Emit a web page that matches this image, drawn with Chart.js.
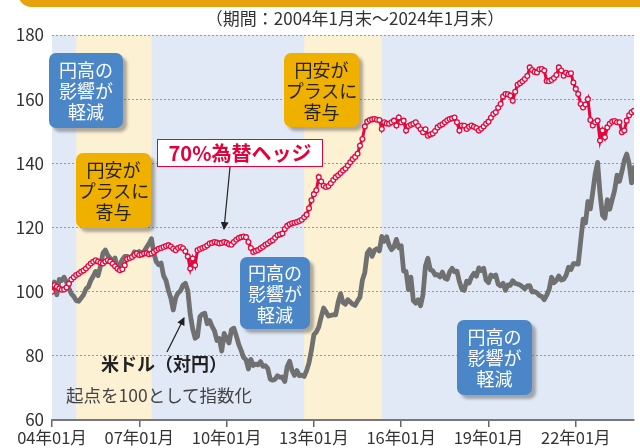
<!DOCTYPE html>
<html lang="ja">
<head>
<meta charset="utf-8">
<script src="https://cdn.jsdelivr.net/npm/chart.js@4.4.1/dist/chart.umd.min.js"></script>
<style>
  html, body { margin:0; padding:0; background:#fff; }
  #wrap { position:relative; width:640px; height:448px; overflow:hidden; font-family:"Noto Sans CJK JP","Noto Sans",sans-serif; }
  #chart { position:absolute; left:0; top:0; }
  .ov { position:absolute; z-index:2; white-space:nowrap; }
  .banner { position:absolute; left:18px; top:-20px; width:660px; height:27px; background:#E9A20F; border-radius:14px; z-index:2; }
  .title { left:0; width:710px; top:8px; text-align:center; font-size:17px; color:#333; line-height:20px; }
  .box { display:flex; align-items:center; justify-content:center; text-align:center; font-size:18px; line-height:21px; border-radius:7px; box-shadow:4px 4px 3px rgba(80,80,80,0.45); }
  .blue { background:#4A86C8; color:#fff; }
  .yellow { background:#F0B000; color:#222; }
  .hedge { left:157px; top:139px; width:164px; height:26px; border:1.5px solid #E4003A; background:#fff; color:#E4003A; font-weight:bold; font-size:20px; line-height:26px; text-align:center; }
  .usd { left:101px; top:352px; font-size:18px; font-weight:bold; color:#222; line-height:22px; }
  .note { left:66px; top:384px; font-size:17.5px; color:#444; line-height:21px; }
  svg.arrows { position:absolute; left:0; top:0; z-index:3; }
</style>
</head>
<body>
<div id="wrap">
  <canvas id="chart" width="640" height="448"></canvas>
  <div class="banner"></div>
  <div class="ov title">（期間：2004年1月末～2024年1月末）</div>
  <div class="ov box blue" style="left:49px;top:53px;width:74px;height:75px;">円高の<br>影響が<br>軽減</div>
  <div class="ov box yellow" style="left:76px;top:153px;width:75px;height:75px;">円安が<br>プラスに<br>寄与</div>
  <div class="ov box yellow" style="left:284px;top:53px;width:75px;height:74px;">円安が<br>プラスに<br>寄与</div>
  <div class="ov box blue" style="left:240px;top:257px;width:70px;height:72px;">円高の<br>影響が<br>軽減</div>
  <div class="ov box blue" style="left:457px;top:320px;width:75px;height:75px;">円高の<br>影響が<br>軽減</div>
  <div class="ov hedge">70%為替ヘッジ</div>
  <div class="ov usd">米ドル（対円）</div>
  <div class="ov note">起点を100として指数化</div>
  <svg class="arrows" width="640" height="448">
    <defs>
      <marker id="ah" markerWidth="8" markerHeight="8" refX="7" refY="4" orient="auto" markerUnits="userSpaceOnUse">
        <path d="M0,0 L8,4 L0,8 z" fill="#222"/>
      </marker>
    </defs>
    <line x1="230" y1="167" x2="224" y2="229" stroke="#222" stroke-width="1.2" marker-end="url(#ah)"/>
    <line x1="167" y1="352" x2="184" y2="318" stroke="#222" stroke-width="1.2" marker-end="url(#ah)"/>
  </svg>
</div>
<script>
// ---- data (month-end index, Jan 2004 = 100) ----
const tickLabels = ['04年01月','07年01月','10年01月','13年01月','16年01月','19年01月','22年01月'];
const startYear = 2004;
const yenWeakPeriods = [['2004-11','2007-06'], ['2012-09','2015-05']];

const hedged70 = [
  100.0,102.0,101.5,101.0,100.6,100.7,101.3,102.5,103.8,104.5,105.2,105.6,
  106.2,106.6,107.2,108.0,108.8,109.3,109.8,109.4,109.0,108.8,109.4,109.8,
  109.4,108.7,107.9,107.2,106.7,107.0,108.2,110.2,110.5,110.8,111.4,111.9,
  111.4,111.6,111.9,112.0,111.7,111.9,112.4,112.9,113.4,113.6,113.9,114.2,
  114.5,114.1,113.4,112.9,113.6,113.9,113.5,112.6,111.0,107.2,110.3,108.2,
  112.9,113.3,113.6,113.9,114.4,115.0,115.2,115.5,115.3,115.0,115.2,115.5,
  115.2,114.8,114.6,115.5,116.2,116.7,117.0,117.2,117.0,115.5,113.6,112.4,
  112.7,113.0,113.5,114.0,114.6,115.0,115.6,116.0,116.8,117.6,117.8,118.1,
  119.5,120.5,121.0,121.3,121.5,121.7,122.0,122.4,123.2,124.0,126.0,128.5,
  130.4,131.6,135.7,134.3,133.0,132.6,132.9,133.8,134.8,135.7,136.3,137.0,
  137.8,138.4,139.3,140.3,141.3,142.0,143.0,145.5,147.6,151.5,153.0,153.5,
  153.7,153.8,153.6,153.5,150.7,152.8,152.4,152.3,152.8,153.3,151.8,154.3,
  152.8,153.3,150.2,151.6,152.0,152.3,152.8,151.6,150.6,149.7,150.6,148.6,
  149.0,149.3,150.1,151.2,151.8,152.2,152.8,153.4,153.8,154.0,154.3,152.8,
  150.2,151.8,151.7,150.7,151.4,151.8,151.4,151.0,150.2,150.8,151.5,152.3,
  153.0,154.2,155.4,155.9,157.3,158.5,160.8,161.6,161.5,161.1,159.5,162.3,
  164.5,165.0,165.6,166.3,167.2,169.9,169.1,168.5,168.3,169.3,169.4,168.9,
  165.7,165.6,166.0,166.6,167.5,169.9,168.9,167.3,168.2,167.8,168.1,165.2,
  163.2,161.6,158.5,157.4,158.3,160.0,153.5,151.8,152.8,153.3,147.1,150.2,
  148.1,151.2,152.3,153.0,153.2,152.8,152.8,149.7,150.2,153.3,155.0,155.9,
  156.4
];

const usdJpy = [
  100.0,103.0,99.0,103.8,103.5,104.5,103.0,101.0,99.3,98.5,97.2,97.0,
  98.0,99.0,100.8,101.5,103.5,104.8,106.3,105.0,108.0,112.0,113.0,111.3,
  110.4,109.5,110.5,107.0,108.5,110.0,111.0,111.0,110.3,110.8,112.4,112.0,
  112.5,111.9,112.6,113.8,115.0,116.5,112.0,109.3,108.4,108.9,105.0,103.5,
  100.4,98.0,94.3,98.1,99.6,100.3,102.0,102.6,100.3,92.9,88.5,85.5,
  86.0,92.2,93.0,93.3,90.0,91.0,89.2,87.8,84.8,85.4,81.5,87.0,
  85.3,84.0,88.2,88.6,86.2,83.6,81.7,79.5,78.8,75.9,78.9,77.0,
  77.4,77.2,78.2,76.7,76.9,76.0,72.7,72.4,72.7,73.8,73.3,73.4,
  72.0,76.7,78.3,75.4,73.9,75.4,73.8,74.0,73.6,75.4,77.9,81.8,
  86.6,87.4,89.0,92.1,94.9,93.7,92.4,92.6,92.8,92.8,96.7,99.4,
  96.6,96.1,97.5,96.8,96.1,95.7,97.1,98.3,103.6,106.0,112.0,113.1,
  111.0,112.9,113.4,112.7,117.2,115.7,117.1,114.5,113.1,113.9,116.3,113.7,
  114.3,106.4,106.3,100.6,104.5,97.2,96.4,97.5,95.6,99.1,108.0,110.4,
  106.8,106.5,105.2,105.3,104.6,106.1,104.2,103.9,106.2,107.3,106.2,106.4,
  103.1,100.8,100.4,103.3,102.7,104.6,105.7,104.8,107.4,106.6,107.3,103.6,
  102.8,105.2,104.7,105.2,102.3,101.8,102.6,100.4,102.1,102.0,103.4,102.6,
  102.4,102.1,101.5,100.9,101.8,101.9,99.9,100.0,99.6,98.8,98.5,97.5,
  98.9,100.7,104.5,102.8,103.5,104.9,103.6,103.9,105.1,107.6,106.9,108.7,
  108.7,108.6,115.6,122.6,121.4,128.1,125.8,131.0,136.7,140.3,130.4,123.8,
  122.9,128.7,125.7,128.7,131.6,136.3,134.4,137.4,140.9,142.9,139.9,133.9,
  138.7
];

// ---- helpers ----
const FONT = '"Noto Sans CJK JP","Noto Sans",sans-serif';
const RED = '#E5073D';
const monthIndex = s => { const [y, m] = s.split('-').map(Number); return (y - startYear) * 12 + (m - 1); };
const labelIndex = l => { const y = 2000 + parseInt(l.slice(0, 2), 10); const m = parseInt(l.slice(3, 5), 10); return (y - startYear) * 12 + (m - 1); };

const bandPlugin = {
  id: 'bands',
  beforeDraw(chart) {
    const { ctx, chartArea: a, scales: { x } } = chart;
    ctx.save();
    ctx.fillStyle = '#E2E9F6';
    ctx.fillRect(a.left, a.top, a.right - a.left, a.bottom - a.top);
    ctx.fillStyle = '#FDF1D4';
    yenWeakPeriods.forEach(([s, e]) => {
      const x0 = x.getPixelForValue(monthIndex(s));
      const x1 = x.getPixelForValue(monthIndex(e));
      ctx.fillRect(x0, a.top, x1 - x0, a.bottom - a.top);
    });
    ctx.restore();
  }
};

new Chart(document.getElementById('chart'), {
  type: 'line',
  data: {
    datasets: [
      {
        label: '70%為替ヘッジ',
        data: hedged70.map((v, i) => ({ x: i, y: v })),
        borderColor: RED, borderWidth: 3,
        pointRadius: 2.4, pointBorderWidth: 1.3,
        pointBackgroundColor: '#fff', pointBorderColor: RED,
        tension: 0, order: 0
      },
      {
        label: '米ドル（対円）',
        data: usdJpy.map((v, i) => ({ x: i, y: v })),
        borderColor: '#707070', borderWidth: 4.8,
        pointRadius: 0, borderJoinStyle: 'round', borderCapStyle: 'round',
        tension: 0, order: 1
      }
    ]
  },
  options: {
    responsive: false,
    animation: false,
    layout: { padding: { left: 0, right: 6, top: 35, bottom: 0 } },
    plugins: { legend: { display: false }, tooltip: { enabled: false } },
    scales: {
      x: {
        type: 'linear', min: 0, max: 240,
        afterBuildTicks: s => { s.ticks = tickLabels.map(l => ({ value: labelIndex(l) })); },
        afterFit: s => { s.height = 28; },
        ticks: {
          autoSkip: false, maxRotation: 0, padding: 1,
          color: '#333', font: { size: 16.5, family: FONT },
          callback: (v, i) => tickLabels[i]
        },
        grid: { drawOnChartArea: false, drawTicks: true, tickLength: 7, color: '#666', lineWidth: 1.5 },
        border: { display: true, color: '#777', width: 2 }
      },
      y: {
        min: 60, max: 180,
        afterFit: s => { s.width = 52; },
        ticks: { stepSize: 20, padding: 8, color: '#333', font: { size: 17, family: FONT } },
        grid: {
          drawTicks: false, lineWidth: 1,
          color: c => (c.tick && c.tick.value === 60) ? 'rgba(0,0,0,0)' : '#9a9a9a'
        },
        border: { display: false, dash: [2, 2] }
      }
    }
  },
  plugins: [bandPlugin]
});
</script>
</body>
</html>
